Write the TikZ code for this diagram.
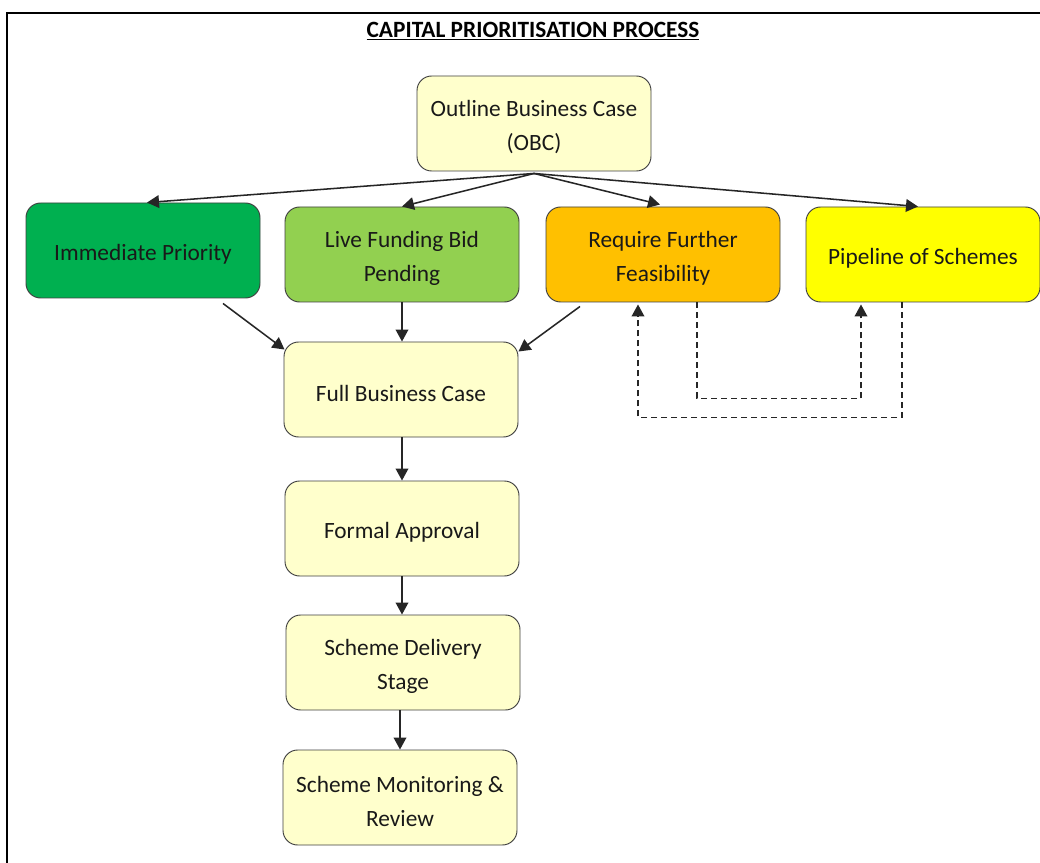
\documentclass[tikz,border=0pt]{standalone}
\usepackage{fontspec}
\setmainfont{Carlito}
\usetikzlibrary{arrows.meta,calc}
\definecolor{lightyel}{HTML}{FFFFCC}
\definecolor{dkgreen}{HTML}{00B050}
\definecolor{ltgreen}{HTML}{92D050}
\definecolor{orng}{HTML}{FFC000}
\definecolor{yel}{HTML}{FFFF00}
\definecolor{edge}{HTML}{404040}
\newcommand{\firstln}{\rule{0pt}{17.5pt}}
\tikzset{
  box/.style={draw=edge, line width=0.7pt, rounded corners=11pt, minimum width=175.5pt, minimum height=71.25pt,
    inner sep=0pt, align=center, font=\fontsize{17.5}{25.5}\selectfont, text=black!90},
  arr/.style={draw=black!85, line width=1.15pt, -{Triangle[length=9pt,width=9.5pt]}},
  dasharr/.style={draw=black!85, line width=1.15pt, dash pattern=on 4.5pt off 3pt, -{Triangle[length=9pt,width=9.5pt]}}
}
\begin{document}
\begin{tikzpicture}[x=0.75pt,y=-0.75pt]
\useasboundingbox (0,0) rectangle (1040,863);
\fill[white] (0,0) rectangle (1040,863);
\draw[line width=1.5pt] (7,863) -- (7,13) -- (1040,13);
\node[font=\fontsize{17.5}{20}\selectfont\bfseries] (title) at (533,31) {\underline{CAPITAL PRIORITISATION PROCESS}};
\node[box, fill=lightyel] (obc) at (534,123.5) {\firstln Outline Business Case\\(OBC)};
\node[box, fill=dkgreen] (imm) at (143,250.5) {\firstln Immediate Priority};
\node[box, fill=ltgreen] (live) at (402,254.5) {\firstln Live Funding Bid\\Pending};
\node[box, fill=orng] (req) at (663,254.5) {\firstln Require Further\\Feasibility};
\node[box, fill=yel] (pip) at (923,254.5) {\firstln Pipeline of Schemes};
\node[box, fill=lightyel] (fbc) at (401,389.5) {\firstln Full Business Case};
\node[box, fill=lightyel] (fa) at (402,528.5) {\firstln Formal Approval};
\node[box, fill=lightyel] (sds) at (403,662.5) {\firstln Scheme Delivery\\Stage};
\node[box, fill=lightyel] (smr) at (400,797.5) {\firstln Scheme Monitoring \&\\Review};
\coordinate (hub) at ($(obc.south)+(0,2)$);
\draw[arr] (hub) -- ($(imm.north)+(4,0)$);
\draw[arr] (hub) -- (live.north);
\draw[arr] (hub) -- ($(req.north)+(-3,-2)$);
\draw[arr] (hub) -- ($(pip.north)+(-5,0)$);
\draw[arr] ($(imm.south)+(80,5)$) -- ($(fbc.north west)+(1,8)$);
\draw[arr] (live.south) -- (live.south |- fbc.north);
\draw[arr] ($(req.south)+(-83,4)$) -- ($(fbc.north east)+(0,10)$);
\draw[arr] (fa.north |- fbc.south) -- (fa.north);
\draw[arr] (fa.south) -- (fa.south |- sds.north);
\draw[arr] (smr.north |- sds.south) -- (smr.north);
\draw[dasharr] ($(req.south)+(34,0)$) -- ++(0,96) -| ($(pip.south)+(-62,2)$);
\draw[dasharr] ($(pip.south)+(-21,0)$) -- ++(0,115) -| ($(req.south)+(-25,2)$);
\end{tikzpicture}
\end{document}
